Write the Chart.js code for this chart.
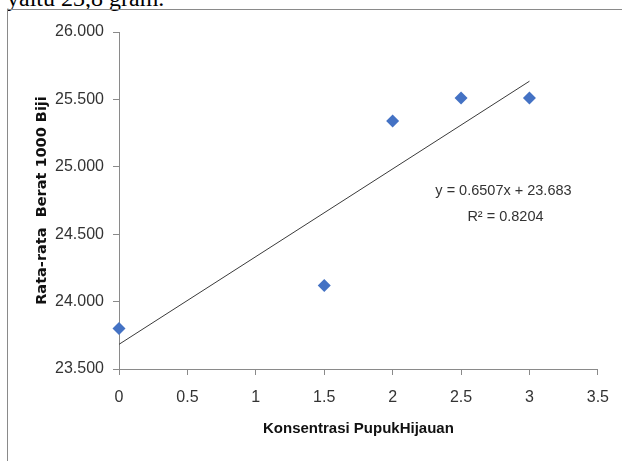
<!DOCTYPE html>
<html>
<head>
<meta charset="utf-8">
<script src="https://cdn.jsdelivr.net/npm/chart.js@4"></script>
<style>
    html, body { margin: 0; padding: 0; width: 622px; height: 461px; overflow: hidden; background: #fff; }
    #caption { position: absolute; left: 7px; top: -14px; font-family: "Liberation Serif", "Times New Roman", serif; font-size: 24px; line-height: 24px; color: #000; white-space: nowrap; }
    #frame { position: absolute; left: 7px; top: 9px; width: 700px; height: 500px; border-left: 1px solid #8a8a8a; border-top: 1px solid #8a8a8a; }
    #myChart { position: absolute; left: 0; top: 0; }
</style>
</head>
<body>
<div id="caption">yaitu 23,8 gram.</div>
<div id="frame"></div>
<canvas id="myChart" width="622" height="461"></canvas>
<script>
// data
const konsentrasi = [0, 1.5, 2, 2.5, 3];
const beratBiji = [23.80, 24.12, 25.34, 25.51, 25.51];

// linear trend line (Excel) endpoints
const trendX = [0, 3];
const trendY = [23.683, 25.635];
const trendText = ['y = 0.6507x + 23.683', 'R\u00b2 = 0.8204'];

// tick labels
const xTickValues = [0, 0.5, 1, 1.5, 2, 2.5, 3, 3.5];
const yTickValues = [23.5, 24, 24.5, 25, 25.5, 26];

const axisColor = '#8a8a8a';
const textColor = '#333333';
const tickFont = { family: "'Liberation Sans', Arial, sans-serif", size: 16 };

// draws the equation text next to the trend line
const equationLabel = {
    id: 'equationLabel',
    afterDatasetsDraw(chart) {
        const c = chart.ctx;
        const x = chart.scales.x.getPixelForValue(2.81);
        const y = chart.scales.y.getPixelForValue(24.82);
        c.save();
        c.font = "14.5px 'Liberation Sans', Arial, sans-serif";
        c.fillStyle = textColor;
        c.textAlign = 'center';
        c.textBaseline = 'middle';
        c.fillText(trendText[0], x, y);
        c.fillText(trendText[1], x + 2, y + 26);
        c.restore();
    }
};

function initChart() {
    const ctx = document.getElementById('myChart');

    new Chart(ctx, {
        type: 'scatter',
        data: {
            datasets: [{
                label: 'Berat',
                data: konsentrasi.map((k, i) => ({ x: k, y: beratBiji[i] })),
                pointStyle: 'rectRot',
                pointRadius: 6.5,
                pointBorderWidth: 0,
                backgroundColor: '#4472C4',
                borderColor: '#4472C4',
                clip: false,
                order: 1
            }, {
                type: 'line',
                label: 'Linear',
                data: trendX.map((k, i) => ({ x: k, y: trendY[i] })),
                borderColor: '#3a3a3a',
                borderWidth: 1,
                pointRadius: 0,
                fill: false,
                clip: false,
                order: 2
            }]
        },
        options: {
            responsive: false,
            animation: false,
            devicePixelRatio: 1,
            layout: {
                padding: { top: 32, right: 22, left: 0, bottom: 0 }
            },
            scales: {
                x: {
                    type: 'linear',
                    min: 0,
                    max: 3.5,
                    afterBuildTicks: (scale) => { scale.ticks = xTickValues.map(v => ({ value: v })); },
                    afterFit: (scale) => { scale.height = 92; },
                    grid: { drawOnChartArea: false, drawTicks: true, tickLength: 6, color: axisColor },
                    border: { color: axisColor },
                    ticks: {
                        font: tickFont,
                        color: textColor,
                        padding: 13,
                        maxRotation: 0,
                        callback: (v) => String(v)
                    },
                    title: {
                        display: true,
                        text: 'Konsentrasi PupukHijauan',
                        color: '#111',
                        font: { family: "'Liberation Sans', Arial, sans-serif", size: 15, weight: 'bold' },
                        padding: { top: 0, bottom: 23 }
                    }
                },
                y: {
                    type: 'linear',
                    min: 23.5,
                    max: 26,
                    afterBuildTicks: (scale) => { scale.ticks = yTickValues.map(v => ({ value: v })); },
                    afterFit: (scale) => { scale.width = 119; },
                    grid: { drawOnChartArea: false, drawTicks: true, tickLength: 6, color: axisColor },
                    border: { color: axisColor },
                    ticks: {
                        font: tickFont,
                        color: textColor,
                        padding: 9,
                        callback: (v) => Number(v).toFixed(3)
                    },
                    title: {
                        display: true,
                        text: 'Rata-rata  Berat 1000 Biji',
                        color: '#111',
                        font: { family: "'DejaVu Sans', Verdana, sans-serif", size: 14.5, weight: 'bold' },
                        padding: { top: 33.5, bottom: 0 }
                    }
                }
            },
            plugins: {
                legend: { display: false },
                tooltip: { enabled: false },
                title: { display: false }
            }
        },
        plugins: [equationLabel]
    });
}

document.addEventListener('DOMContentLoaded', initChart);
</script>
</body>
</html>
